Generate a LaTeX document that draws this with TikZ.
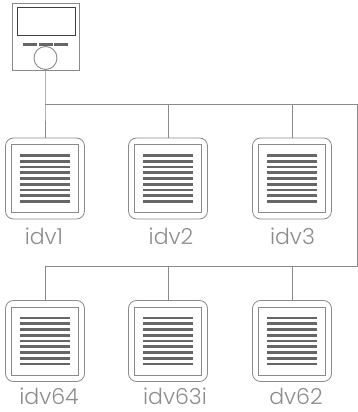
\documentclass[tikz,border=0pt]{standalone}
\usepackage{fontspec}
\setmainfont[UprightFont=* Light]{Poppins}
\definecolor{linec}{HTML}{8A8A8A}
\definecolor{barc}{HTML}{666666}
\definecolor{textc}{HTML}{8C8C8C}
\tikzset{
  wire/.style={draw=linec,line width=0.8pt},
  outerbox/.style={draw=linec,line width=0.8pt,rounded corners=8pt,minimum width=79pt,minimum height=81pt,inner sep=0pt},
  innerbox/.style={draw=linec,line width=0.9pt,minimum width=67.5pt,minimum height=68pt,inner sep=0pt},
  barline/.style={fill=barc,draw=none,minimum width=50pt,minimum height=2.9pt,inner sep=0pt},
  devlabel/.style={text=textc,font=\fontsize{22pt}{24pt}\selectfont,inner sep=0pt,anchor=base},
  ctrlbox/.style={draw=linec,line width=1pt,minimum width=67pt,minimum height=67.5pt,inner sep=0pt},
  screenbox/.style={draw=black!75,line width=0.9pt,minimum width=58.5pt,minimum height=28.4pt,inner sep=0pt},
  keybar/.style={fill=barc,draw=none,minimum width=14pt,minimum height=3.3pt,inner sep=0pt},
  knob/.style={circle,draw=linec,line width=0.9pt,minimum size=23pt,inner sep=0pt,fill=white}
}
\newcommand{\device}[6]{%
  \node[outerbox] (#1) at (#2,#3) {};
  \node[innerbox] (#1i) at (#2,#3) {};
  \foreach \k in {-4,...,4} \node[barline] (#1b\k) at (#2,#3+\k*5.75) {};
  \node[devlabel] (#1t) at (#5,#6) {#4};
}
\begin{document}
\begin{tikzpicture}[x=1pt,y=1pt]
\useasboundingbox (0,0) rectangle (358,412);
\node[ctrlbox] (ctrl) at (45.8,375.2) {};
\node[screenbox] (screen) at (46.3,390.5) {};
\node[keybar] (k1) at (30,367.5) {};
\node[keybar] (k2) at (46,367.5) {};
\node[keybar] (k3) at (61,367.5) {};
\device{a}{45}{233.5}{idv1}{44}{167}
\device{b}{168}{233.5}{idv2}{171}{167}
\device{c}{292}{233.5}{idv3}{292.5}{167}
\device{d}{45}{71}{idv64}{49}{7}
\device{e}{168}{71}{idv63i}{175}{7}
\device{f}{292}{71}{dv62}{296}{7}
\coordinate (j1) at (45,308);
\coordinate (r1) at (357,308);
\coordinate (r2) at (357,146);
\coordinate (j2) at (45,146);
\draw[wire] (45,342) -- (j1) -- (a.north);
\draw[wire] (j1) -- (r1) -- (r2) -- (j2) -- (d.north);
\draw[wire] (j1 -| b.north) -- (b.north);
\draw[wire] (j1 -| c.north) -- (c.north);
\draw[wire] (j2 -| e.north) -- (e.north);
\draw[wire] (j2 -| f.north) -- (f.north);
\node[knob] (dial) at (45.5,354) {};
\end{tikzpicture}
\end{document}
